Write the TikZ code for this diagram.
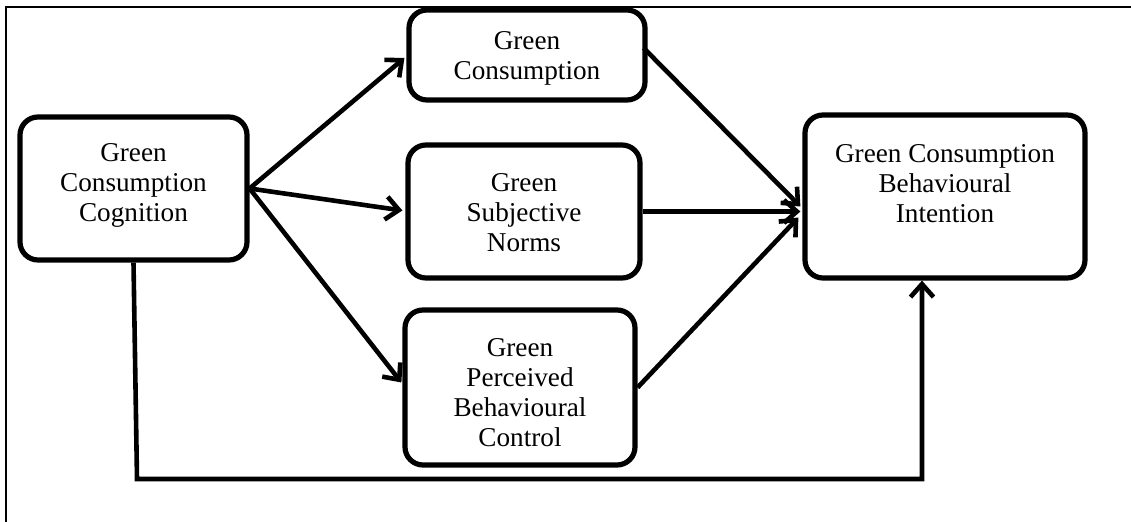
\documentclass[tikz,border=0pt]{standalone}
\usepackage{fontspec}
\setmainfont{Liberation Serif}
\usetikzlibrary{arrows.meta,calc}

\begin{document}
\begin{tikzpicture}[x=0.5pt,y=-0.5pt,
  box/.style={draw=black,line width=2.6pt,rounded corners=9pt,inner sep=0pt},
  label/.style={align=center,inner sep=0pt,font=\fontsize{13.6}{15}\selectfont},
  link/.style={line width=2.3pt,-{Straight Barb[length=6.5pt,width=11.5pt,line width=2.3pt]}},
  frame/.style={line width=1pt}
]
% canvas
\useasboundingbox (0,0) rectangle (1131,522);
\draw[frame] (6,522) -- (6,7) -- (1131,7);

% boxes
\node[box,minimum width=113.5pt,minimum height=71.5pt] (cog) at (133.5,188.5) {};
\node[box,minimum width=118pt,minimum height=45pt]   (gc)  at (527,55) {};
\node[box,minimum width=116pt,minimum height=66.5pt] (sn)  at (524,211.5) {};
\node[box,minimum width=115pt,minimum height=77.5pt] (pbc) at (520,387.5) {};
\node[box,minimum width=140pt,minimum height=81.5pt] (gcbi) at (945,196.5) {};

% texts
\node[label] (cogT)  at (133.5,185) {Green\\Consumption\\Cognition};
\node[label] (gcT)   at (527,58)    {Green\\Consumption};
\node[label] (snT)   at (524,213)   {Green\\Subjective\\Norms};
\node[label] (pbcT)  at (520,393)   {Green\\Perceived\\Behavioural\\Control};
\node[label] (gcbiT) at (945,184)   {Green Consumption\\Behavioural\\Intention};

% paths from cognition to the three determinants
\draw[link] (cog.east) -- ($(gc.west)+(-2,3)$);
\draw[link] (cog.east) -- ($(sn.west)+(-3,-1)$);
\draw[link] (cog.east) -- ($(pbc.west)+(-1,-5)$);

% paths from the determinants to intention
\draw[link] ($(gc.east)+(-4,-7)$) -- ($(gcbi.west)+(-2,10)$);
\draw[link] (sn.east) -- ($(gcbi.west)+(-2,15)$);
\draw[link] (pbc.east) -- ($(gcbi.west)+(-4,21)$);

% direct path along the bottom
\coordinate (c1) at (137,479);
\coordinate (c2) at (922,479);
\draw[link] (cog.south) -- (c1) -- (c2) -- (c2 |- gcbi.south);
\end{tikzpicture}
\end{document}
